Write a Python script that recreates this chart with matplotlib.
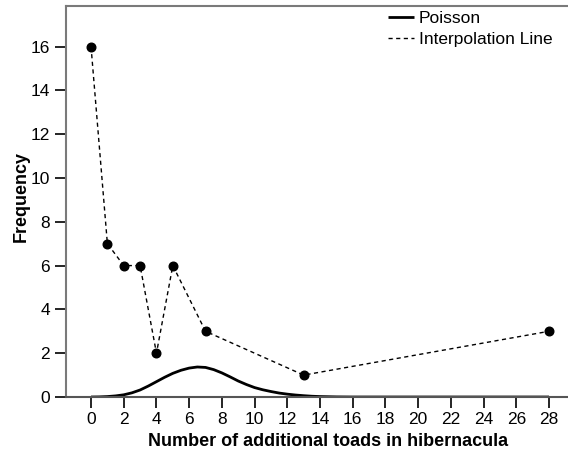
import numpy as np
import matplotlib.pyplot as plt

plt.rcParams['font.family'] = ['Liberation Sans', 'DejaVu Sans']

# observed frequencies (interpolation line)
toads = [0, 1, 2, 3, 4, 5, 7, 13, 28]
freq = [16, 7, 6, 6, 2, 6, 3, 1, 3]

# fitted Poisson curve
pois_x = [0, 0.5, 1, 1.5, 2, 2.5, 3, 3.5, 4, 4.5, 5, 5.5, 6, 6.5, 7, 7.5, 8,
          8.5, 9, 9.5, 10, 10.5, 11, 11.5, 12, 12.5, 13, 13.5, 14, 15, 16, 28]
pois_y = [0.0, 0.005, 0.02, 0.05, 0.1, 0.19, 0.32, 0.5, 0.7, 0.9, 1.08, 1.22,
          1.32, 1.37, 1.35, 1.25, 1.1, 0.92, 0.73, 0.57, 0.43, 0.33, 0.25,
          0.18, 0.13, 0.09, 0.06, 0.035, 0.02, 0.005, 0.0, 0.0]

xticks = list(range(0, 29, 2))
yticks = list(range(0, 17, 2))

fig = plt.figure(figsize=(5.68, 4.57), dpi=100)
ax = fig.add_axes([66 / 568, 60 / 457, 502 / 568, 391 / 457])

ax.plot(pois_x, pois_y, color='black', lw=2, label='Poisson', solid_capstyle='butt')
ax.plot(toads, freq, color='black', lw=1, ls=(0, (3, 2.5)), label='Interpolation Line')
ax.plot(toads, freq, 'o', color='black', ms=6.2)

ax.set_xlim(-1.53, 29.16)
ax.set_ylim(0, 17.85)
ax.set_xticks(xticks)
ax.set_yticks(yticks)
ax.tick_params(direction='out', length=8, width=1.2, color='black', labelsize=12.5)
ax.tick_params(axis='x', pad=3)

for side in ['left', 'top', 'bottom']:
    ax.spines[side].set_color('#7a7a7a')
    ax.spines[side].set_linewidth(1.5)
ax.spines['bottom'].set_color('#555555')
ax.spines['right'].set_visible(False)

ax.set_xlabel('Number of additional toads in hibernacula', fontsize=13, fontweight='bold')
ax.set_ylabel('Frequency', fontsize=13, fontweight='bold')
ax.xaxis.set_label_coords(0.522, -0.093)
ax.yaxis.set_label_coords(-0.073, 0.512)

ax.legend(loc='upper right', bbox_to_anchor=(1.0, 1.027), frameon=False, fontsize=12.5,
          handlelength=1.5, handletextpad=0.3, labelspacing=0.3)

fig.savefig('out.png', dpi=100)
